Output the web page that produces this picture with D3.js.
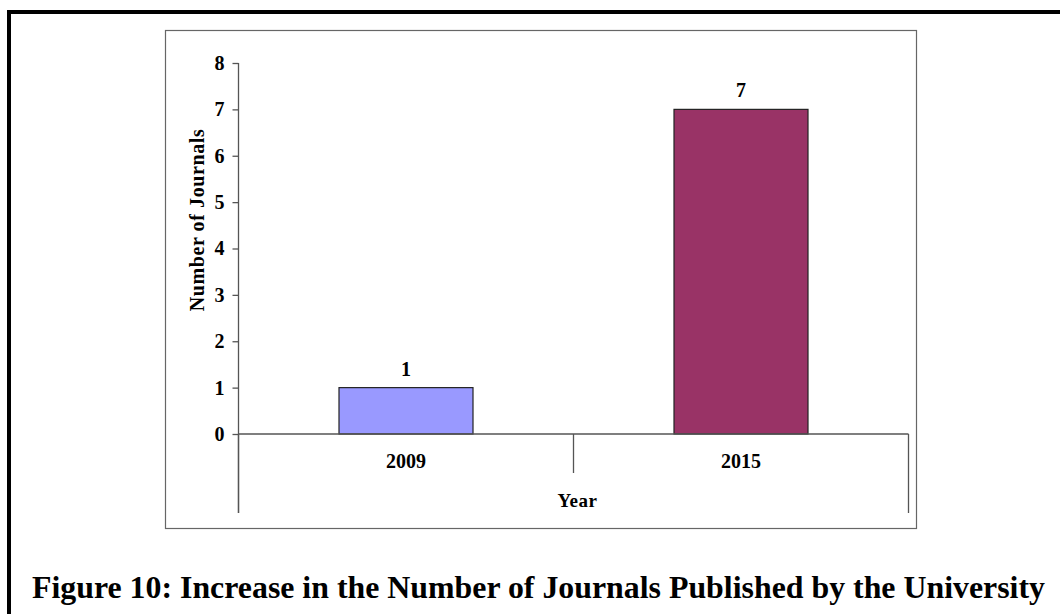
<!DOCTYPE html>
<html>
<head>
<meta charset="utf-8">
<script src="https://cdn.jsdelivr.net/npm/d3@7"></script>
<style>
  html, body { margin: 0; padding: 0; background: #fff; }
  svg { display: block; }
  svg text { font-family: "Liberation Serif", "Times New Roman", Times, serif; font-weight: 700; fill: #000; }
</style>
</head>
<body>
<svg id="chart" width="1060" height="614"></svg>
<script>
// Journals published per year
const years = ["2009", "2015"];
const journals = [1, 7];
const barColors = ["#9999FF", "#993366"];
const yTicks = [0, 1, 2, 3, 4, 5, 6, 7, 8];
const yTitle = "Number of Journals";
const xTitle = "Year";
const caption = "Figure 10: Increase in the Number of Journals Published by the University";

const serif = "'Liberation Serif', 'Times New Roman', Times, serif";
const svg = d3.select("#chart");

// outer page frame (left and top edges visible)
svg.append("path")
  .attr("d", "M9,614 L9,12 L1060,12")
  .attr("fill", "none").attr("stroke", "#000").attr("stroke-width", 4);

// chart area frame
svg.append("rect")
  .attr("x", 165.5).attr("y", 30.5).attr("width", 751).attr("height", 498)
  .attr("fill", "#fff").attr("stroke", "#666").attr("stroke-width", 1.2);

const plot = { left: 238.5, right: 908.5, top: 63, bottom: 434 };

const x = d3.scaleBand().domain(years)
  .range([plot.left, plot.right]).paddingInner(0.6).paddingOuter(0.3);
const y = d3.scaleLinear().domain([0, 8]).range([plot.bottom, plot.top]);

const axisColor = "#555";

// bars
svg.append("g").selectAll("rect").data(years).join("rect")
  .attr("x", d => x(d))
  .attr("y", (d, i) => y(journals[i]))
  .attr("width", x.bandwidth())
  .attr("height", (d, i) => y(0) - y(journals[i]))
  .attr("fill", (d, i) => barColors[i])
  .attr("stroke", "#222").attr("stroke-width", 1.2);

// value labels
svg.append("g").selectAll("text").data(years).join("text")
  .attr("x", d => x(d) + x.bandwidth() / 2)
  .attr("y", (d, i) => y(journals[i]) - 12)
  .attr("text-anchor", "middle")
  .style("font-family", serif)
  .style("font-size", "20px")
  .text((d, i) => journals[i]);

// y axis
const yAxis = svg.append("g")
  .attr("transform", `translate(${plot.left},0)`)
  .call(d3.axisLeft(y).tickValues(yTicks).tickSize(6).tickPadding(8).tickFormat(d3.format("d")));
yAxis.attr("font-family", null).attr("font-size", null);
yAxis.select(".domain").remove();
yAxis.selectAll(".tick line").attr("stroke", axisColor).attr("stroke-width", 1.3);
yAxis.selectAll(".tick text")
  .style("font-family", serif)
  .style("font-size", "20px")
  .attr("fill", "#000");
svg.append("line")
  .attr("x1", plot.left).attr("x2", plot.left)
  .attr("y1", y(8)).attr("y2", 513)
  .attr("stroke", axisColor).attr("stroke-width", 1.3);

// x axis baseline
svg.append("line")
  .attr("x1", plot.left).attr("x2", plot.right)
  .attr("y1", y(0)).attr("y2", y(0))
  .attr("stroke", axisColor).attr("stroke-width", 1.3);

// category dividers below the baseline
const step = x.step();
const dividers = [
  { pos: plot.left, end: 513 },
  { pos: plot.left + step, end: 473 },
  { pos: plot.right, end: 513 }
];
svg.append("g").selectAll("line").data(dividers).join("line")
  .attr("x1", d => d.pos).attr("x2", d => d.pos)
  .attr("y1", y(0)).attr("y2", d => d.end)
  .attr("stroke", axisColor).attr("stroke-width", 1.3);

// category labels
svg.append("g").selectAll("text").data(years).join("text")
  .attr("x", d => x(d) + x.bandwidth() / 2)
  .attr("y", 468)
  .attr("text-anchor", "middle")
  .style("font-family", serif)
  .style("font-size", "20px")
  .text(d => d);

// axis titles
svg.append("text")
  .attr("x", (plot.left + plot.right) / 2 + 4)
  .attr("y", 507)
  .attr("text-anchor", "middle")
  .style("font-family", serif)
  .style("font-size", "19px")
  .style("letter-spacing", "0.5px")
  .text(xTitle);

svg.append("text")
  .attr("transform", `translate(204,220) rotate(-90)`)
  .attr("text-anchor", "middle")
  .style("font-family", serif)
  .style("font-size", "20px")
  .style("letter-spacing", "0.6px")
  .text(yTitle);

// caption
svg.append("text")
  .attr("x", 32).attr("y", 598)
  .style("font-family", serif)
  .style("font-size", "31px")
  .attr("textLength", 1013)
  .attr("lengthAdjust", "spacingAndGlyphs")
  .text(caption);
</script>
</body>
</html>
